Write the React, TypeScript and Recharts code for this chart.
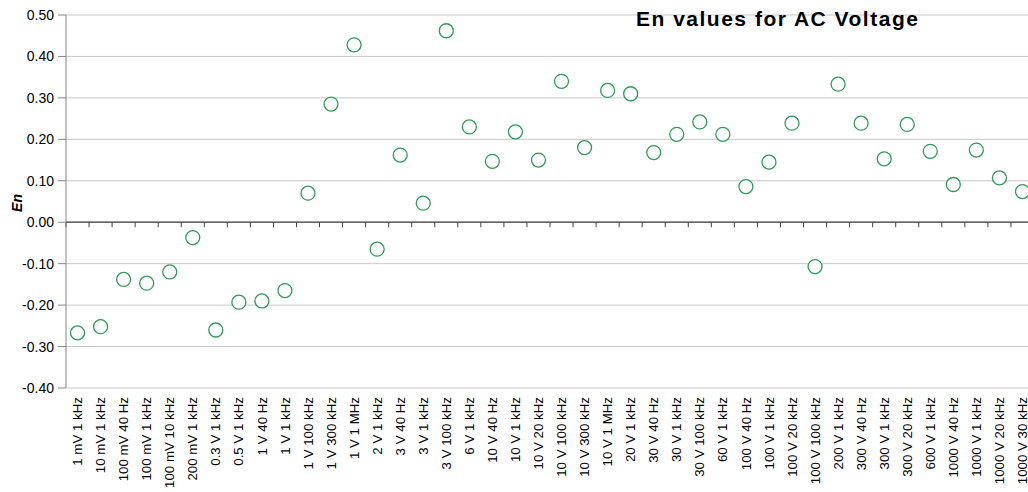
import { ComposedChart, Line, XAxis, YAxis, CartesianGrid, ReferenceLine } from "recharts";

const categories = [
  "1 mV 1 kHz", "10 mV 1 kHz", "100 mV 40 Hz", "100 mV 1 kHz", "100 mV 10 kHz", "200 mV 1 kHz",
  "0.3 V 1 kHz", "0.5 V 1 kHz", "1 V 40 Hz", "1 V 1 kHz", "1 V 100 kHz", "1 V 300 kHz",
  "1 V 1 MHz", "2 V 1 kHz", "3 V 40 Hz", "3 V 1 kHz", "3 V 100 kHz", "6 V 1 kHz",
  "10 V 40 Hz", "10 V 1 kHz", "10 V 20 kHz", "10 V 100 kHz", "10 V 300 kHz", "10 V 1 MHz",
  "20 V 1 kHz", "30 V 40 Hz", "30 V 1 kHz", "30 V 100 kHz", "60 V 1 kHz", "100 V 40 Hz",
  "100 V 1 kHz", "100 V 20 kHz", "100 V 100 kHz", "200 V 1 kHz", "300 V 40 Hz", "300 V 1 kHz",
  "300 V 20 kHz", "600 V 1 kHz", "1000 V 40 Hz", "1000 V 1 kHz", "1000 V 20 kHz", "1000 V 30 kHz",
];

const enValues = [
  -0.267, -0.252, -0.138, -0.147, -0.12, -0.037,
  -0.26, -0.193, -0.19, -0.165, 0.07, 0.285,
  0.428, -0.065, 0.162, 0.046, 0.462, 0.23,
  0.147, 0.218, 0.15, 0.34, 0.18, 0.318,
  0.31, 0.168, 0.212, 0.242, 0.212, 0.086,
  0.145, 0.239, -0.107, 0.333, 0.239, 0.153,
  0.236, 0.171, 0.091, 0.174, 0.107, 0.074,
];

const yTicks = [-0.4, -0.3, -0.2, -0.1, 0, 0.1, 0.2, 0.3, 0.4, 0.5];

const data = categories.map((name, i) => ({ name, en: enValues[i] }));

const font = "Arial, 'Liberation Sans', sans-serif";

function XTick(props: any) {
  const { x, y, payload } = props;
  return (
    <text
      x={x}
      y={y}
      transform={`rotate(-90, ${x}, ${y})`}
      textAnchor="end"
      dy="0.35em"
      fontSize={13.3}
      fontFamily={font}
      fill="#000"
    >
      {payload.value}
    </text>
  );
}

function ZeroLine(props: any) {
  const { x1, y1, x2 } = props;
  const n = categories.length;
  const step = (x2 - x1) / n;
  return (
    <g>
      <line x1={x1} y1={y1} x2={x2} y2={y1} stroke="#404040" strokeWidth={1.2} />
      {categories.concat([""]).map((_, i) => (
        <line key={i} x1={x1 + i * step} y1={y1} x2={x1 + i * step} y2={y1 + 5} stroke="#404040" />
      ))}
    </g>
  );
}

function Dot(props: any) {
  const { cx, cy, index } = props;
  if (cx == null || cy == null) return null;
  return <circle key={index} cx={cx} cy={cy} r={7} fill="#fff" stroke="#2f9a5c" strokeWidth={1.3} />;
}

export default function App() {
  return (
    <div style={{ position: "absolute", left: 0, top: 0, width: 1028, height: 492, overflow: "hidden", background: "#fff" }}>
      <ComposedChart width={1040} height={492} data={data} margin={{ top: 15, right: 6, bottom: 0, left: 0 }}>
        <CartesianGrid vertical={false} stroke="#c8c8c8" />
        <XAxis
          dataKey="name"
          type="category"
          scale="band"
          interval={0}
          height={104}
          axisLine={false}
          tickLine={false}
          tickSize={6}
          tickMargin={3}
          tick={<XTick />}
        />
        <YAxis
          width={66}
          domain={[-0.4, 0.5]}
          ticks={yTicks}
          allowDataOverflow
          tickFormatter={(v: number) => v.toFixed(2)}
          axisLine={{ stroke: "#888" }}
          tickLine={{ stroke: "#888" }}
          tickSize={8}
          tickMargin={4}
          tick={{ fontSize: 14, fill: "#000", fontFamily: font }}
        />
        <ReferenceLine y={0} shape={<ZeroLine />} />
        <Line
          dataKey="en"
          stroke="none"
          dot={<Dot />}
          activeDot={false}
          isAnimationActive={false}
          legendType="none"
        />
      </ComposedChart>
      <div
        style={{
          position: "absolute",
          left: 636,
          top: 7,
          fontFamily: font,
          fontWeight: "bold",
          fontSize: 21,
          letterSpacing: 1.5,
          color: "#000",
          whiteSpace: "nowrap",
        }}
      >
        En values for AC Voltage
      </div>
      <div
        style={{
          position: "absolute",
          left: 17,
          top: 203,
          transform: "translate(-50%, -50%) rotate(-90deg)",
          fontFamily: font,
          fontWeight: "bold",
          fontStyle: "italic",
          fontSize: 14,
          color: "#000",
        }}
      >
        En
      </div>
    </div>
  );
}
